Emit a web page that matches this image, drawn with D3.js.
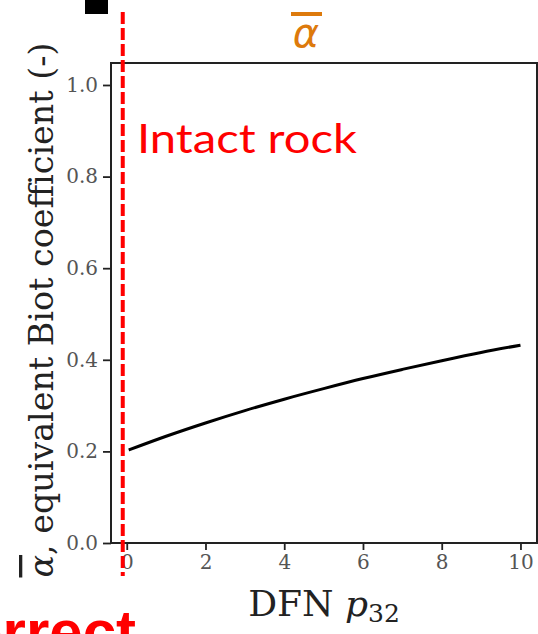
<!DOCTYPE html>
<html>
<head>
<meta charset="utf-8">
<script src="https://cdn.jsdelivr.net/npm/d3@7"></script>
<style>
  html, body { margin: 0; padding: 0; background: #fff; }
  svg { display: block; }
</style>
</head>
<body>
<div id="chart"></div>
<script>
// values
const dfnP32 = [0.05, 1, 2, 3, 4, 5, 6, 7, 8, 9, 10];
const biotAlpha = [0.203, 0.233, 0.262, 0.289, 0.314, 0.337, 0.359, 0.379, 0.398, 0.416, 0.432];
const xTicks = [0, 2, 4, 6, 8, 10];
const yTicks = [0.0, 0.2, 0.4, 0.6, 0.8, 1.0];
const intactRockP32 = [0];

const width = 538;
const height = 634;
const margin = { top: 63, left: 111, bottom: 91, right: 1 };
const iwidth = width - margin.left - margin.right;
const iheight = height - margin.top - margin.bottom;

const svg = d3.select("#chart").append("svg")
    .attr("width", width)
    .attr("height", height);

svg.append("rect").attr("width", width).attr("height", height).attr("fill", "#fff");

const x = d3.scaleLinear().domain([-0.4, 10.42]).range([0, iwidth]);
const y = d3.scaleLinear().domain([0, 1.048]).range([iheight, 0]);

const g = svg.append("g").attr("transform", `translate(${margin.left},${margin.top})`);

const serif = "'DejaVu Serif', 'Liberation Serif', serif";

// axes
const xAxis = g.append("g")
    .attr("transform", `translate(0,${iheight})`)
    .call(d3.axisBottom(x).tickValues(xTicks).tickFormat(d3.format("d")).tickSize(7).tickPadding(5).tickSizeOuter(0));
const yAxis = g.append("g")
    .call(d3.axisLeft(y).tickValues(yTicks).tickFormat(d3.format(".1f")).tickSize(8).tickPadding(5).tickSizeOuter(0));

[xAxis, yAxis].forEach(a => {
    a.select(".domain").remove();
    a.selectAll(".tick line").attr("stroke", "#222").attr("stroke-width", 1.8);
    a.selectAll(".tick text")
        .attr("font-family", serif)
        .attr("font-size", 20)
        .attr("fill", "#555");
});

// frame
g.append("rect")
    .attr("width", iwidth)
    .attr("height", iheight)
    .attr("fill", "none")
    .attr("stroke", "#222")
    .attr("stroke-width", 2);

// curve
const line = d3.line()
    .x((d, i) => x(dfnP32[i]))
    .y(d => y(d))
    .curve(d3.curveMonotoneX);

g.append("path")
    .datum(biotAlpha)
    .attr("d", line)
    .attr("fill", "none")
    .attr("stroke", "#000")
    .attr("stroke-width", 3);

// intact rock marker
svg.selectAll(".intact").data(intactRockP32).enter().append("line")
    .attr("class", "intact")
    .attr("x1", d => margin.left + x(d) - 4)
    .attr("x2", d => margin.left + x(d) - 4)
    .attr("y1", 12)
    .attr("y2", 576)
    .attr("stroke", "#ff0000")
    .attr("stroke-width", 4)
    .attr("stroke-dasharray", "12,4");

svg.append("text")
    .attr("x", 137)
    .attr("y", 153)
    .attr("font-family", "'URW Gothic', 'Lato', 'Open Sans', sans-serif")
    .attr("font-size", 40)
    .attr("fill", "#ff0000")
    .attr("textLength", 220)
    .attr("lengthAdjust", "spacingAndGlyphs")
    .text("Intact rock");

// title
svg.append("line")
    .attr("x1", 291).attr("x2", 322)
    .attr("y1", 14).attr("y2", 14)
    .attr("stroke", "#dd7a0c")
    .attr("stroke-width", 4);
svg.append("text")
    .attr("x", 306)
    .attr("y", 47)
    .attr("text-anchor", "middle")
    .attr("font-family", "'DejaVu Sans', sans-serif")
    .attr("font-style", "italic")
    .attr("font-size", 40)
    .attr("fill", "#dd7a0c")
    .text("α");

// black square at top left
svg.append("rect")
    .attr("x", 85).attr("y", 0)
    .attr("width", 23).attr("height", 14)
    .attr("fill", "#000");

// x label
const xl = svg.append("text")
    .attr("x", margin.left + iwidth / 2)
    .attr("y", 616)
    .attr("text-anchor", "middle")
    .attr("font-family", serif)
    .attr("font-size", 36)
    .attr("fill", "#222");
xl.append("tspan").text("DFN ");
xl.append("tspan").attr("font-style", "italic").text("p");
xl.append("tspan").attr("font-size", 25).attr("dy", 6).text("32");

// y label
const yl = svg.append("text")
    .attr("transform", `translate(53,310) rotate(-90)`)
    .attr("text-anchor", "middle")
    .attr("font-family", serif)
    .attr("font-size", 33)
    .attr("fill", "#222")
    .attr("textLength", 535)
    .attr("lengthAdjust", "spacingAndGlyphs");
yl.append("tspan").attr("font-style", "italic").attr("text-decoration", "overline").text("α");
yl.append("tspan").text(", equivalent Biot coefficient (-)");

// cut-off annotation at bottom
svg.append("text")
    .attr("x", 136)
    .attr("y", 652)
    .attr("text-anchor", "end")
    .attr("font-family", "'Liberation Sans', Arial, sans-serif")
    .attr("font-weight", "bold")
    .attr("font-size", 60)
    .attr("fill", "#ff0000")
    .text("Correct");
</script>
</body>
</html>
